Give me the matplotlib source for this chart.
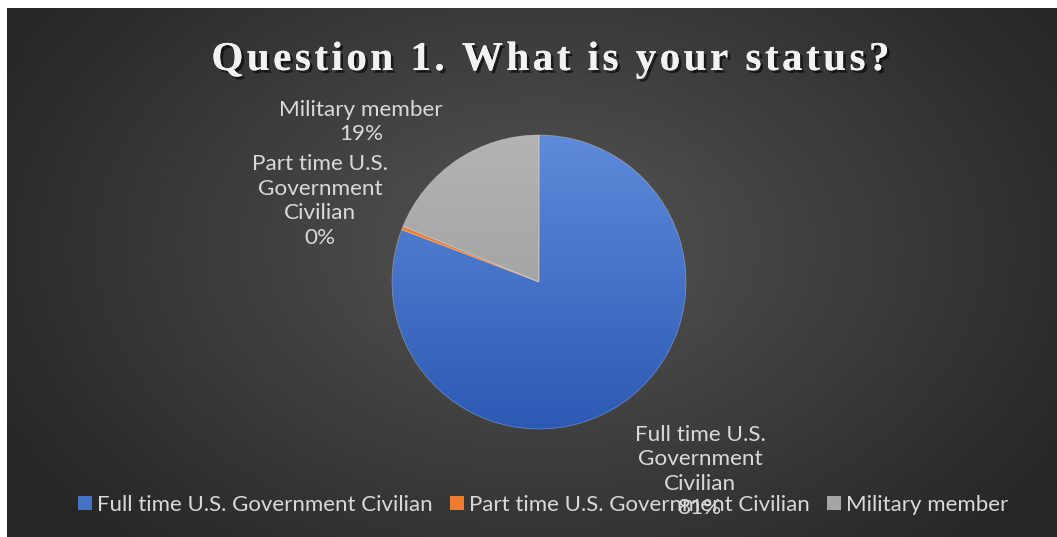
import numpy as np
import matplotlib
matplotlib.use("Agg")
import matplotlib.pyplot as plt
from matplotlib.patches import Patch
from matplotlib.colors import LinearSegmentedColormap
from matplotlib.font_manager import FontProperties, findfont
from matplotlib.ft2font import FT2Font
import matplotlib.patheffects as pe

# --- data -------------------------------------------------------------
title = "Question 1. What is your status?"
categories = ["Full time U.S. Government Civilian",
              "Part time U.S. Government Civilian",
              "Military member"]
shares = [80.8, 0.4, 18.8]          # percent of respondents
label_text = ["Full time U.S.\nGovernment\nCivilian", "Part time U.S.\nGovernment\nCivilian",
              "Military member"]

# --- styling ----------------------------------------------------------
W, H = 1057, 537
DPI = 100
base_colors = ["#4472c4", "#ed7d31", "#a5a5a5"]
grad_colors = [("#5f8bdb", "#2c59b3"), ("#f4843a", "#e0702a"), ("#b3b3b3", "#989898")]
label_offsets = [(1.095, -1.29), (-1.49, 0.55), (-1.21, 1.09)]
txt_color = "#d9d9d9"
font = "Lato"
label_size = 16.2
legend_size = 16.0
title_size = 29.5
title_tracking = 3.5   # extra pixels between title letters

fig = plt.figure(figsize=(W / DPI, H / DPI), dpi=DPI)
fig.patch.set_facecolor("white")
ax = fig.add_axes([0, 0, 1, 1])

# dark radial-gradient panel
x0, x1, y0, y1 = 7, W, 0, H - 8
gx, gy = np.meshgrid(np.linspace(x0, x1, 600), np.linspace(y0, y1, 300))
cx, cy = 540, 290
d = np.sqrt(((gx - cx) / 620) ** 2 + ((gy - cy) / 420) ** 2)
d = np.clip(d, 0, 1)
bg_cmap = LinearSegmentedColormap.from_list("bg", ["#555555", "#3d3d3d", "#262626"])
ax.imshow(d, extent=[x0, x1, y0, y1], origin="lower", cmap=bg_cmap,
          vmin=0, vmax=1, zorder=0, interpolation="bilinear")

# pie
pc = (539, H - 282)
R = 147
wedges, _ = ax.pie(shares, colors=base_colors, startangle=90, counterclock=False,
                   center=pc, radius=R, frame=True,
                   wedgeprops=dict(linewidth=0.5, edgecolor=(1, 1, 1, 0.35)))
ax.set_xlim(0, W)
ax.set_ylim(0, H)
ax.set_aspect("equal")
ax.axis("off")

# vertical gradient fill inside each wedge
gyy = np.linspace(0, 1, 256).reshape(-1, 1)
for w, (top, bot) in zip(wedges, grad_colors):
    cm = LinearSegmentedColormap.from_list("g", [bot, top])
    im = ax.imshow(gyy, extent=[pc[0] - R, pc[0] + R, pc[1] - R, pc[1] + R],
                   origin="lower", cmap=cm, zorder=2, aspect="auto")
    im.set_clip_path(w)
    w.set_facecolor("none")
    w.set_zorder(3)

# data labels
for txt, val, (dx, dy) in zip(label_text, shares, label_offsets):
    ax.text(pc[0] + dx * R, pc[1] + dy * R, f"{txt}\n{round(val):d}%",
            ha="center", va="center", color=txt_color, fontsize=label_size,
            family=font, linespacing=1.28, zorder=5)

# title: letter-spaced serif with a soft shadow
tprop = FontProperties(family="Liberation Serif", weight="bold", size=title_size)
ft = FT2Font(findfont(tprop))
ft.set_size(title_size, DPI)
adv = [ft.load_char(ord(c)).linearHoriAdvance / 65536.0 for c in title]
total = sum(adv) + title_tracking * (len(title) - 1)
x = 550.5 - total / 2
shadow = [pe.withSimplePatchShadow(offset=(2, -2), shadow_rgbFace="#000000", alpha=0.6),
          pe.Normal()]
for c, a in zip(title, adv):
    ax.text(x, H - 56, c, ha="left", va="center_baseline", color="#f2f2f2",
            fontproperties=tprop, zorder=6, path_effects=shadow)
    x += a + title_tracking

# legend
handles = [Patch(facecolor=c, edgecolor="none") for c in base_colors]
leg = ax.legend(handles, categories, loc="center", bbox_to_anchor=(543 / W, 1 - 505 / H),
                ncol=3, frameon=False, labelcolor=txt_color,
                prop={"family": font, "size": legend_size},
                handlelength=0.62, handleheight=0.62, handletextpad=0.22,
                columnspacing=0.8)
leg.set_zorder(4)

fig.savefig("out.png", dpi=DPI, facecolor=fig.get_facecolor())
